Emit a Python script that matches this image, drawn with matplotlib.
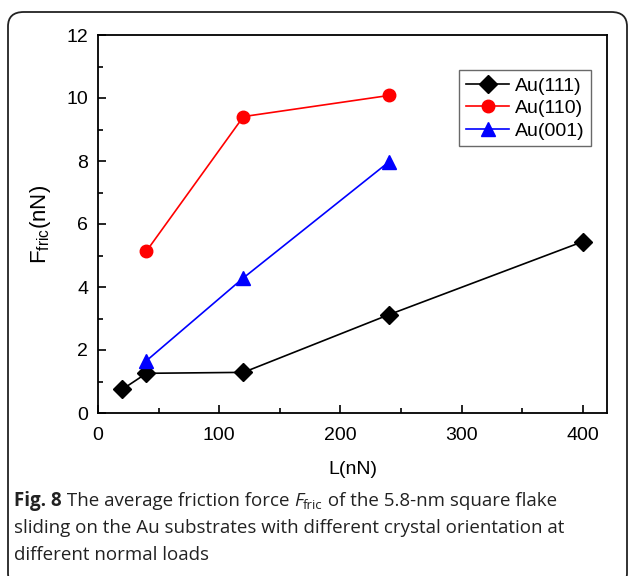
import matplotlib
matplotlib.use('Agg')

import matplotlib.pyplot as plt
from matplotlib.patches import FancyBboxPatch
from matplotlib.transforms import offset_copy

plt.rcParams['font.family'] = ['Liberation Sans', 'DejaVu Sans']
plt.rcParams['mathtext.fontset'] = 'custom'
plt.rcParams['mathtext.rm'] = 'Liberation Sans'
plt.rcParams['mathtext.it'] = 'Liberation Sans:italic'

# data
load_111 = [20, 40, 120, 240, 400]
fric_111 = [0.75, 1.26, 1.29, 3.12, 5.44]
load_110 = [40, 120, 240]
fric_110 = [5.14, 9.41, 10.08]
load_001 = [40, 120, 240]
fric_001 = [1.66, 4.29, 7.97]
series_names = ['Au(111)', 'Au(110)', 'Au(001)']


def caption_line(fig, x, y, pieces, size):
    """Write a caption line made of several styled pieces, one after the other"""
    renderer = fig.canvas.get_renderer()
    trans = fig.transFigure
    dx = 0
    for txt, weight, style, sz in pieces:
        t = fig.text(x, y, txt, va='baseline', fontsize=sz or size,
                     family=['Open Sans', 'DejaVu Sans'], weight=weight,
                     style=style, color='#222222',
                     transform=offset_copy(trans, fig=fig, x=dx, y=0, units='dots'))
        bb = t.get_window_extent(renderer)
        dx += bb.width
        if sz:
            # subscript piece, drop it a bit
            t.set_transform(offset_copy(trans, fig=fig, x=dx - bb.width, y=-3, units='dots'))


def main():
    fig = plt.figure(figsize=(6.3, 5.76), dpi=100)

    # rounded frame around the whole figure
    frame = FancyBboxPatch((8 / 630, -0.02), 619 / 630, 1 - 12 / 576 + 0.02,
                           boxstyle="round,pad=0,rounding_size=0.025",
                           transform=fig.transFigure, fill=False,
                           edgecolor='#222222', linewidth=1.3)
    fig.patches.append(frame)

    ax = fig.add_axes([98 / 630, 1 - 413 / 576, 509 / 630, 378 / 576])

    ax.plot(load_111, fric_111, '-', color='black', marker='D', markersize=9,
            linewidth=1.2, label=series_names[0])
    ax.plot(load_110, fric_110, '-', color='red', marker='o', markersize=9,
            linewidth=1.2, label=series_names[1])
    ax.plot(load_001, fric_001, '-', color='blue', marker='^', markersize=10,
            linewidth=1.2, label=series_names[2])

    ax.set_xlim(0, 420)
    ax.set_ylim(0, 12)
    ax.set_xticks([0, 100, 200, 300, 400])
    ax.set_xticks([50, 150, 250, 350], minor=True)
    ax.set_yticks([0, 2, 4, 6, 8, 10, 12])
    ax.set_yticks([1, 3, 5, 7, 9, 11], minor=True)
    ax.tick_params(which='both', direction='in', labelsize=14, width=1.2)
    ax.tick_params(which='major', length=6)
    ax.tick_params(which='minor', length=3.5)
    ax.tick_params(axis='x', pad=10)
    ax.tick_params(axis='y', pad=7)
    for s in ax.spines.values():
        s.set_linewidth(1.3)

    ax.set_xlabel('L(nN)', fontsize=14, labelpad=12)
    ax.set_ylabel(r'F$_{\mathrm{fric}}$(nN)', fontsize=16, labelpad=10)

    leg = ax.legend(loc='upper right', bbox_to_anchor=(0.969, 0.907), fontsize=14,
                    frameon=True, fancybox=False, edgecolor='#444444',
                    handlelength=2.2, handletextpad=0.3, borderpad=0.35,
                    labelspacing=0.25, borderaxespad=0)
    leg.get_frame().set_linewidth(1.0)

    # caption
    size = 13.5
    caption_line(fig, 14 / 630, 1 - 506 / 576, [
        ('Fig. 8', 'bold', 'normal', None),
        (' The average friction force ', 'normal', 'normal', None),
        ('F', 'normal', 'italic', None),
        ('fric', 'normal', 'normal', 9.5),
        (' of the 5.8-nm square flake', 'normal', 'normal', None),
    ], size)
    caption_line(fig, 14 / 630, 1 - 533 / 576, [
        ('sliding on the Au substrates with different crystal orientation at',
         'normal', 'normal', None)], size)
    caption_line(fig, 14 / 630, 1 - 560 / 576, [
        ('different normal loads', 'normal', 'normal', None)], size)

    fig.savefig('out.png', dpi=100)


if __name__ == "__main__":
    main()
